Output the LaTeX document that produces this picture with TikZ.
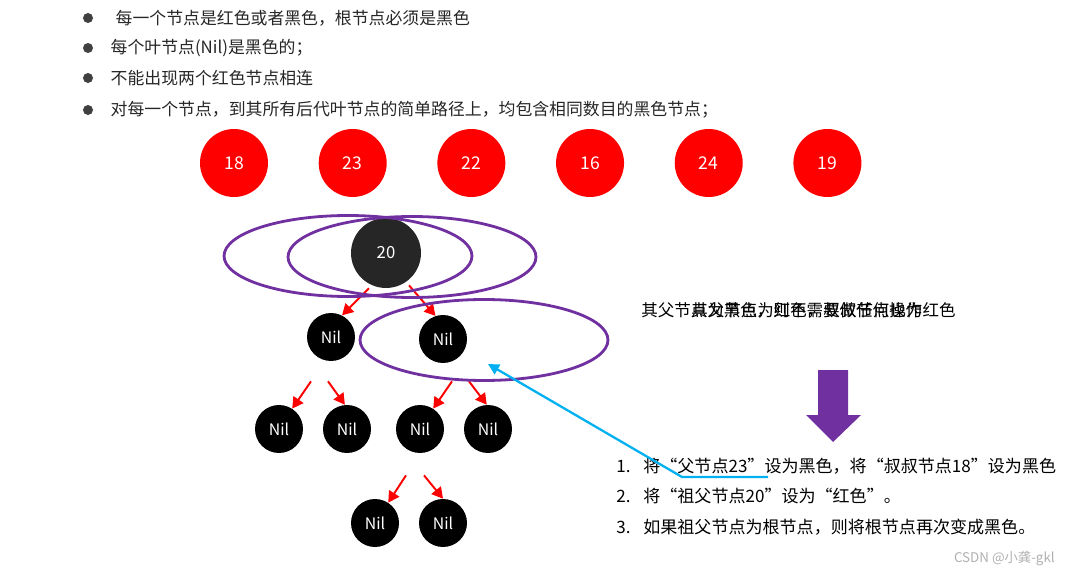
\documentclass[tikz,border=0pt]{standalone}
\usepackage{fontspec}
\setmainfont{Noto Sans CJK SC}
\usetikzlibrary{arrows.meta,positioning,shapes.geometric}
\definecolor{rbRed}{HTML}{FF0000}
\definecolor{rbRoot}{HTML}{262626}
\definecolor{rbPurple}{HTML}{7030A0}
\definecolor{rbCyan}{HTML}{00B0F0}
\definecolor{rbInk}{HTML}{262626}
\definecolor{rbDot}{HTML}{404040}
\definecolor{rbMark}{HTML}{B0B0B0}
\tikzset{
  rbred/.style={circle,fill=rbRed,text=white,minimum size=1.36cm,inner sep=0pt,font=\fontsize{10pt}{12pt}\selectfont},
  rbroot/.style={circle,fill=rbRoot,text=white,minimum size=1.4cm,inner sep=0pt,font=\fontsize{9.5pt}{12pt}\selectfont},
  rbnil/.style={circle,fill=black,text=white,minimum size=0.96cm,inner sep=0pt,font=\fontsize{9pt}{11pt}\selectfont},
  rbgroup/.style={ellipse,draw=rbPurple,line width=1.6pt,minimum width=4.96cm,minimum height=1.62cm,inner sep=0pt},
  rbdot/.style={circle,fill=rbDot,minimum size=0.2cm,inner sep=0pt},
  rbrule/.style={anchor=west,inner sep=0pt,text=rbInk,font=\fontsize{9.6pt}{11pt}\selectfont},
  rbstep/.style={anchor=west,inner sep=0pt,text=black,font=\fontsize{9.7pt}{11pt}\selectfont},
  rbnote/.style={anchor=west,inner sep=0pt,text=black,font=\fontsize{9.4pt}{11pt}\selectfont},
  rbmark/.style={anchor=east,inner sep=0pt,text=rbMark,font=\fontsize{7.6pt}{9pt}\selectfont},
  rblink/.style={-{Triangle[length=2.2mm,width=2.4mm]},draw=rbRed,line width=1.1pt},
  rbpoint/.style={-{Triangle[length=2.2mm,width=2.2mm]},draw=rbCyan,line width=1.3pt}
}

\begin{document}
\begin{tikzpicture}[x=0.02cm,y=-0.02cm]
\useasboundingbox (0,0) rectangle (1067,577);

% ---- REGLAS ----
\node[rbdot] (d1) at (88,18) {};
\node[rbdot] (d2) at (88,48) {};
\node[rbdot] (d3) at (88,78) {};
\node[rbdot] (d4) at (88,110) {};
\node[rbrule, right=0.44cm of d1] (r1) {每一个节点是红色或者黑色，根节点必须是黑色};
\node[rbrule, right=0.34cm of d2] (r2) {每个叶节点(Nil)是黑色的；};
\node[rbrule, right=0.34cm of d3] (r3) {不能出现两个红色节点相连};
\node[rbrule, right=0.34cm of d4] (r4) {对每一个节点，到其所有后代叶节点的简单路径上，均包含相同数目的黑色节点；};

% ---- NODOS ROJOS ----
\node[rbred] (k18) at (234,163) {18};
\node[rbred, right=1.0cm of k18] (k23) {23};
\node[rbred, right=1.0cm of k23] (k22) {22};
\node[rbred, right=1.0cm of k22] (k16) {16};
\node[rbred, right=1.0cm of k16] (k24) {24};
\node[rbred, right=1.0cm of k24] (k19) {19};

% ---- ARBOL ----
\node[rbroot] (k20) at (386,253) {20};
\node[rbnil] (nl) at (331,337) {Nil};
\node[rbnil] (nr) at (443,339) {Nil};
\node[rbnil] (nla) at (279,429) {Nil};
\node[rbnil] (nlb) at (347,429) {Nil};
\node[rbnil] (nra) at (420,429) {Nil};
\node[rbnil] (nrb) at (488,429) {Nil};
\node[rbnil] (nrc) at (375,523) {Nil};
\node[rbnil] (nrd) at (443,523) {Nil};

\draw[rblink] ([xshift=-0.34cm]k20.south) -- (nl.63);
\draw[rblink] ([xshift=0.46cm,yshift=0.06cm]k20.south) -- (nr.108);
\draw[rblink] ([xshift=-0.4cm,yshift=-0.4cm]nl.south) -- (nla.57);
\draw[rblink] ([xshift=-0.06cm,yshift=-0.4cm]nl.south) -- (nlb.95);
\draw[rblink] ([xshift=0.18cm,yshift=-0.36cm]nr.south) -- (nra.57);
\draw[rblink] ([xshift=0.52cm,yshift=-0.36cm]nr.south) -- (nrb.93);
\draw[rblink] ([xshift=-0.28cm,yshift=-0.44cm]nra.south) -- (nrc.57);
\draw[rblink] ([xshift=0.08cm,yshift=-0.44cm]nra.south) -- (nrd.90);

% ---- GRUPOS ----
\node[rbgroup] (g1) at (348,256) {};
\node[rbgroup] (g2) at (412,257) {};
\node[rbgroup] (g3) at (484,340) {};

% ---- NOTAS ----
\node[rbnote] (t1) at (641,310) {其父节点为黑色，则不需要做任何操作};
\node[rbnote] (t2) at (691,310) {其父节点为红色，叔叔节点也为红色};

\fill[rbPurple] (818,370) -- (848,370) -- (848,415) -- (861,415) -- (833,442) -- (806,415) -- (818,415) -- cycle;

\node[rbstep] (s1) at (616,466) {\makebox[0.54cm][l]{1.}将“父节点23”设为黑色，将“叔叔节点18”设为黑色};
\node[rbstep] (s2) at (616,496) {\makebox[0.54cm][l]{2.}将“祖父节点20”设为“红色”。};
\node[rbstep] (s3) at (616,527) {\makebox[0.54cm][l]{3.}如果祖父节点为根节点，则将根节点再次变成黑色。};

\coordinate (cTail) at (768,477);
\coordinate (cBend) at (682,477);
\coordinate (cTip) at (488,364);
\draw[rbpoint] (cTail) -- (cBend) -- (cTip);

\node[rbmark] (wm) at (1055,559) {CSDN @小龚-gkl};
\end{tikzpicture}
\end{document}
